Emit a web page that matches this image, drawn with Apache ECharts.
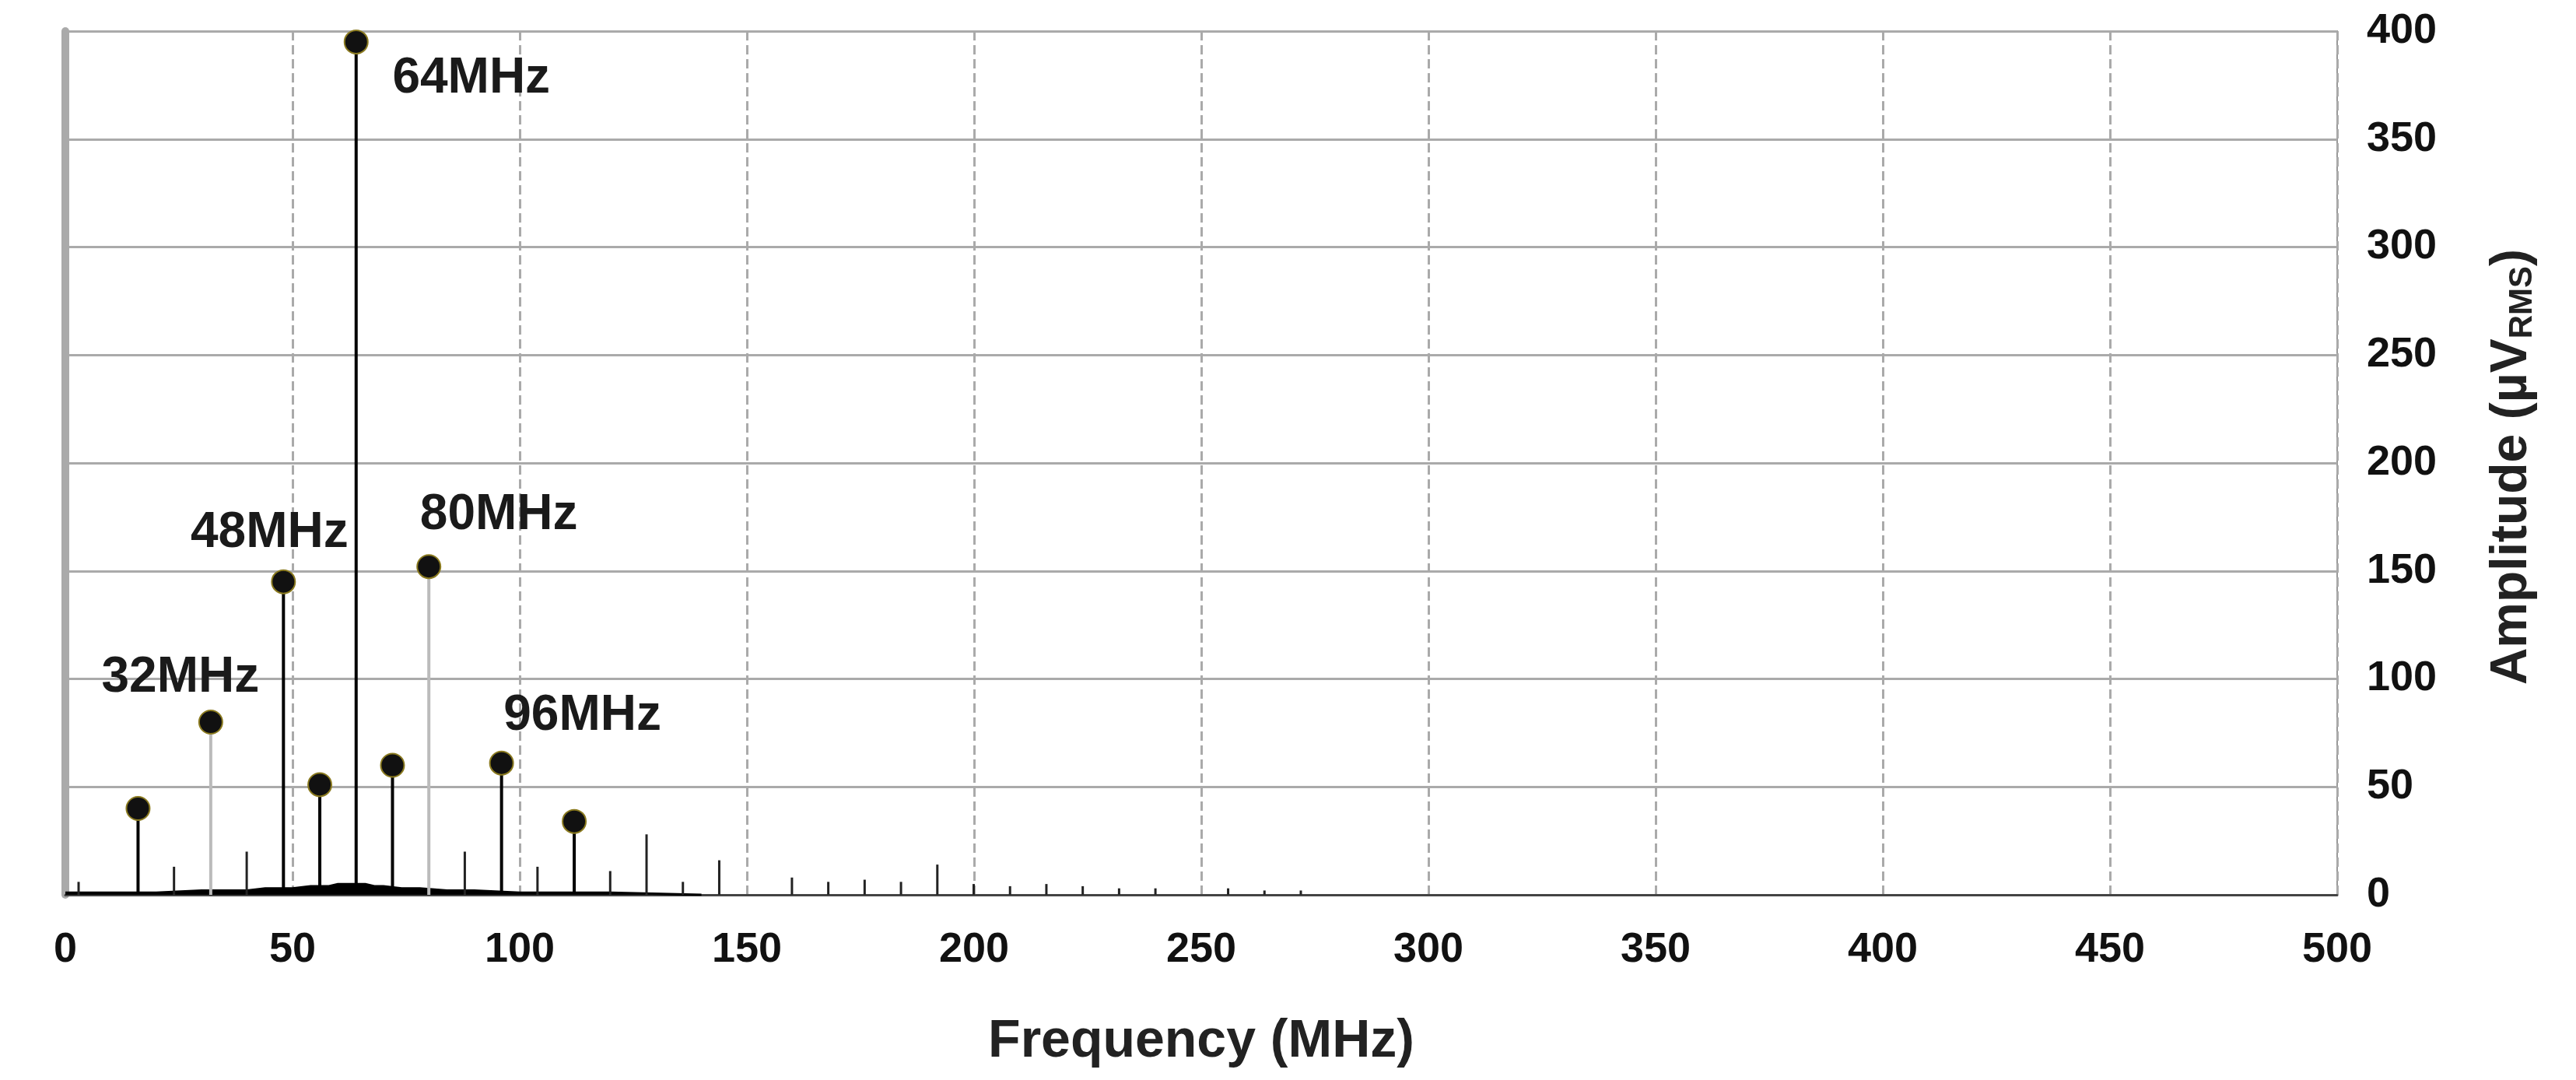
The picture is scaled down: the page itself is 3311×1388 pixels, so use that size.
<!DOCTYPE html>
<html><head><meta charset="utf-8">
<script src="https://cdn.jsdelivr.net/npm/echarts@6/dist/echarts.min.js"></script>
<style>html,body{margin:0;padding:0;background:#fff}#c{width:3311px;height:1388px}</style>
</head><body><div id="c"></div>
<script>
// Major labelled/marked peaks (MHz, µV RMS)
const peakFreq = [16, 32, 48, 56, 64, 72, 80, 96, 112];
const peakAmp  = [40, 80, 145, 51, 395, 60, 152, 61, 34];
const peakLabel = ['', '32MHz', '48MHz', '', '64MHz', '', '80MHz', '96MHz', ''];
const peakStemColor = ['#000', '#bbb', '#000', '#000', '#000', '#000', '#bbb', '#000', '#000'];
// Minor spurs
const spurFreq = [3, 24, 40, 88, 104, 120, 128, 136, 144, 160, 168, 176, 184, 192, 200, 208, 216, 224, 232, 240, 256, 264, 272];
const spurAmp  = [6, 13, 20, 20, 13, 11, 28, 6, 16, 8, 6, 7, 6, 14, 5, 4, 5, 4, 3, 3, 3, 2, 2];
// Noise floor (hand-read approximate)
const noiseFreq = [0, 10, 20, 30, 36, 40, 44, 50, 54, 58, 60, 62, 66, 68, 70, 74, 78, 84, 90, 100, 110, 120, 140];
const noiseAmp  = [1, 1, 1, 2, 2, 2, 3, 3, 4, 4, 5, 5, 5, 4, 4, 3, 3, 2, 2, 1, 1, 1, 0];

const labelOffsets = {'32MHz':[-39,-57],'48MHz':[-18,-62],'64MHz':[148,47],'80MHz':[90,-66],'96MHz':[104,-60]};

const chart = echarts.init(document.getElementById('c'));
const font = 'Liberation Sans';
chart.setOption({
  animation:false,
  grid:{left:84,right:307,top:40,bottom:238,show:true,borderColor:'#999',borderWidth:2},
  xAxis:{type:'value',min:0,max:500,interval:50,
    axisLine:{show:true,onZero:false,lineStyle:{color:'#444',width:3}},
    axisTick:{show:false},
    axisLabel:{fontFamily:font,fontWeight:'bold',fontSize:54,color:'#111',margin:44},
    splitLine:{show:true,lineStyle:{color:'#aaa',type:[12,6],width:3}},
    name:'Frequency (MHz)',nameLocation:'middle',nameGap:155,
    nameTextStyle:{fontFamily:font,fontWeight:'bold',fontSize:68,color:'#222'}},
  yAxis:{type:'value',min:0,max:400,interval:50,position:'right',
    axisLine:{show:true,lineStyle:{color:'#aaa',width:10}},
    axisTick:{show:false},
    axisLabel:{fontFamily:font,fontWeight:'bold',fontSize:54,color:'#111',margin:38},
    splitLine:{show:true,lineStyle:{color:'#aaa',width:3}}},
  graphic:[{type:'text',left:3196,top:320,rotation:Math.PI/2,
    style:{text:'{a|Amplitude (µV}{s|RMS}{a|)}',rich:{
      a:{fontFamily:font,fontWeight:'bold',fontSize:66,fill:'#222'},
      s:{fontFamily:font,fontWeight:'bold',fontSize:42,fill:'#222',padding:[26,0,0,0]}}}}],
  series:[
    {type:'line',data:noiseFreq.map((f,i)=>[f,noiseAmp[i]]),symbol:'none',
     lineStyle:{color:'#000',width:3},areaStyle:{color:'#000',opacity:1},z:2},
    {type:'bar',data:spurFreq.map((f,i)=>[f,spurAmp[i]]),barWidth:3,barGap:'-100%',
     itemStyle:{color:'#222'},z:3},
    {type:'bar',data:peakFreq.map((f,i)=>({value:[f,peakAmp[i]],itemStyle:{color:peakStemColor[i]}})),
     barWidth:4,barGap:'-100%',z:3},
    {type:'scatter',symbolSize:30,z:5,
     itemStyle:{color:'#111',borderColor:'#8a7a20',borderWidth:2,opacity:1},
     data:peakFreq.map((f,i)=>{
       const l=peakLabel[i];
       return {value:[f,peakAmp[i]],label:l?{show:true,formatter:l,position:'inside',
         offset:labelOffsets[l],fontFamily:font,fontWeight:'bold',fontSize:64,color:'#1a1a1a',
         textBorderWidth:0}:{show:false}};
     })}
  ]
});
</script></body></html>
